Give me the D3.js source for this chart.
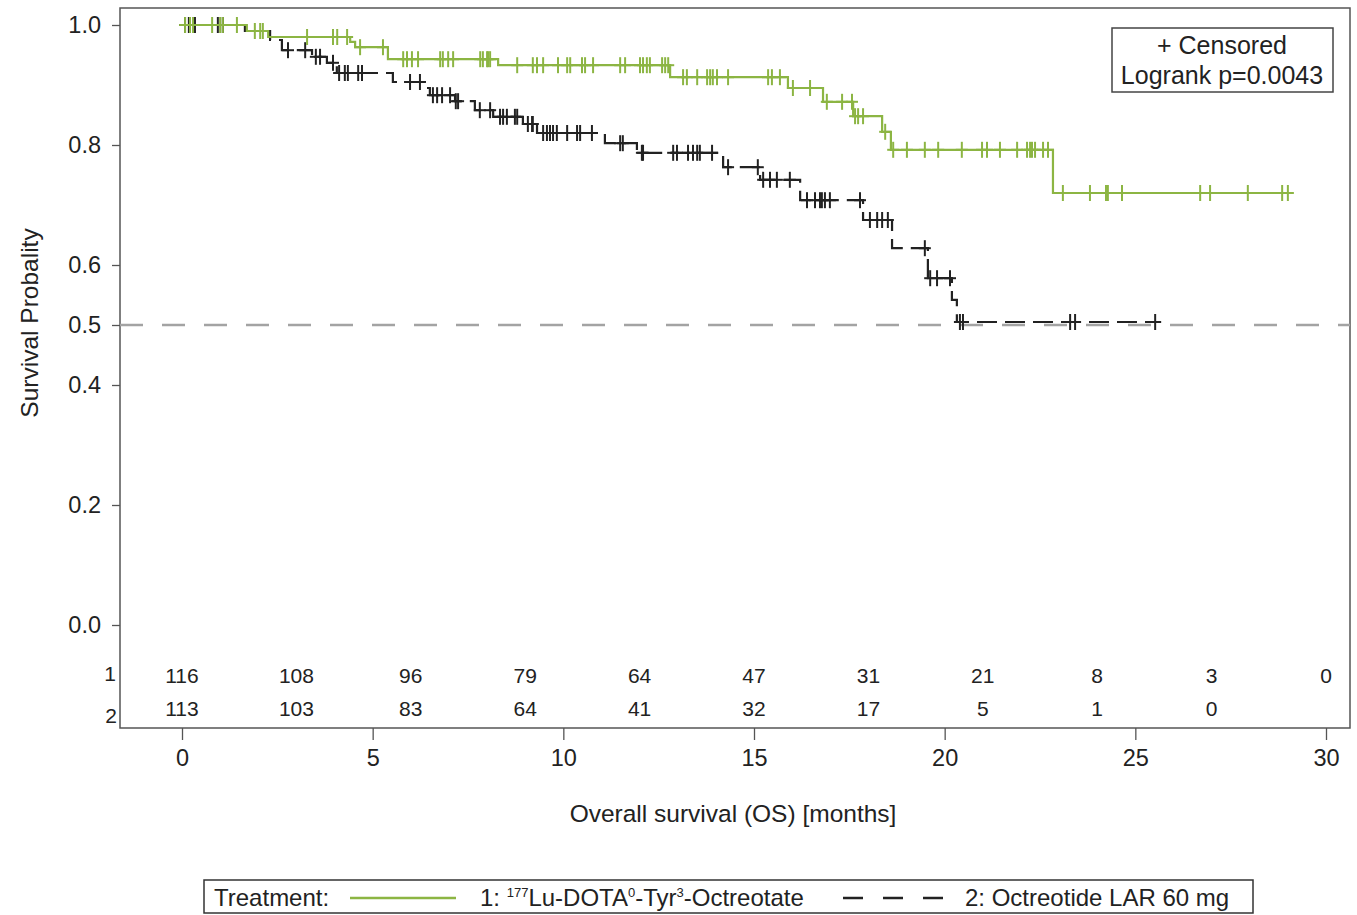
<!DOCTYPE html>
<html>
<head>
<meta charset="utf-8">
<script src="https://d3js.org/d3.v7.min.js"></script>
<style>
  body { margin: 0; background: #fff; }
  text { font-family: "Liberation Sans", Arial, sans-serif; fill: #222; }
</style>
</head>
<body>
<svg width="1357" height="915"></svg>
<script>

// ---- data ----
var xTicks = [0, 5, 10, 15, 20, 25, 30];
var yTicks = [0.0, 0.2, 0.4, 0.5, 0.6, 0.8, 1.0];

var riskTimes = [0, 3, 6, 9, 12, 15, 18, 21, 24, 27, 30];
var riskLu  = [116, 108, 96, 79, 64, 47, 31, 21, 8, 3, 0];
var riskOct = [113, 103, 83, 64, 41, 32, 17, 5, 1, 0];

// [month, survival after the drop]
var luEvents = [
  [1.70, 0.990], [2.26, 0.980], [4.41, 0.972], [4.54, 0.963], [5.40, 0.943],
  [8.29, 0.933], [12.80, 0.913], [15.89, 0.895], [16.81, 0.872], [17.60, 0.848],
  [18.36, 0.822], [18.59, 0.792], [22.84, 0.720]
];
var luCensored = [
  0.08, 0.21, 0.29, 0.79, 1.00, 1.07, 1.44, 1.91, 2.05, 2.12, 3.28, 3.96, 4.07, 4.33,
  4.67, 5.27, 5.80, 5.90, 6.03, 6.19, 6.77, 6.84, 6.98, 7.11, 7.82, 7.89, 8.00, 8.03,
  8.08, 8.79, 9.20, 9.31, 9.47, 9.86, 10.10, 10.18, 10.49, 10.57, 10.78, 11.49, 11.62,
  12.01, 12.09, 12.19, 12.27, 12.59, 12.67, 12.75, 13.14, 13.24, 13.51, 13.77, 13.85,
  13.92, 14.03, 14.32, 15.37, 15.47, 15.68, 16.02, 16.47, 16.91, 17.31, 17.57, 17.65,
  17.73, 17.86, 18.44, 18.65, 19.01, 19.48, 19.83, 20.45, 20.98, 21.11, 21.45, 21.90,
  22.16, 22.24, 22.29, 22.37, 22.58, 22.71, 23.10, 23.81, 24.23, 24.28, 24.65, 26.70,
  26.96, 27.95, 28.85, 29.00
];

var octEvents = [
  [1.65, 0.990], [2.31, 0.975], [2.62, 0.958], [3.41, 0.947], [3.80, 0.937],
  [4.06, 0.920], [5.53, 0.905], [6.37, 0.895], [6.50, 0.883], [7.16, 0.873],
  [7.68, 0.858], [8.16, 0.847], [8.94, 0.835], [9.31, 0.820], [11.09, 0.803],
  [11.93, 0.787], [14.19, 0.763], [15.16, 0.742], [16.21, 0.708], [17.86, 0.675],
  [18.62, 0.628], [19.56, 0.578], [20.19, 0.542], [20.32, 0.505]
];
var octCensored = [
  0.08, 0.18, 0.34, 0.94, 1.07, 2.78, 3.23, 3.51, 3.62, 3.96, 4.12, 4.27, 4.35, 4.62,
  4.72, 5.98, 6.24, 6.58, 6.69, 6.82, 7.03, 7.18, 7.24, 7.81, 8.08, 8.34, 8.42, 8.52,
  8.73, 8.79, 9.07, 9.18, 9.20, 9.47, 9.57, 9.65, 9.73, 9.83, 10.10, 10.36, 10.44,
  10.75, 11.49, 11.56, 12.06, 12.09, 12.88, 12.98, 13.27, 13.40, 13.51, 13.58, 13.90,
  14.32, 15.10, 15.24, 15.42, 15.60, 15.94, 16.39, 16.60, 16.73, 16.78, 16.86, 16.99,
  17.78, 18.04, 18.23, 18.36, 18.51, 19.48, 19.62, 19.80, 20.14, 20.40, 20.48, 23.29,
  23.42, 25.52
];

var green = "#8cb543", dark = "#222";

var svg = d3.select("svg"),
    frame = {left: 120, top: 8, right: 1350, bottom: 728};

var x = d3.scaleLinear().domain([0, 30]).range([182, 1326]);
var y = d3.scaleLinear().domain([0, 1]).range([625, 25]);

// survival of a step curve at time t
function survAt(events, t) {
  var s = 1;
  events.forEach(function(e) { if (e[0] <= t) s = e[1]; });
  return s;
}

function stepPoints(events, censored) {
  var pts = [[0, 1]].concat(events);
  var end = d3.max(censored.concat(events.map(function(e) { return e[0]; })));
  pts.push([end, survAt(events, end)]);
  return pts;
}

var line = d3.line()
    .curve(d3.curveStepAfter)
    .x(function(d) { return x(d[0]); })
    .y(function(d) { return y(d[1]); });

// frame
svg.append("rect")
    .attr("x", frame.left).attr("y", frame.top)
    .attr("width", frame.right - frame.left)
    .attr("height", frame.bottom - frame.top)
    .attr("fill", "none").attr("stroke", "#555").attr("stroke-width", 1.5);

// axes
var yAxis = svg.append("g")
    .attr("transform", "translate(" + frame.left + ",0)")
    .call(d3.axisLeft(y).tickValues(yTicks).tickFormat(d3.format(".1f")).tickSize(8).tickPadding(11));
var xAxis = svg.append("g")
    .attr("transform", "translate(0," + frame.bottom + ")")
    .call(d3.axisBottom(x).tickValues(xTicks).tickSize(12).tickPadding(9));

[yAxis, xAxis].forEach(function(a) {
  a.select(".domain").remove();
  a.selectAll(".tick line").attr("stroke", "#555").attr("stroke-width", 1.3);
  a.selectAll(".tick text").attr("font-size", 23.5).attr("fill", "#222")
      .style("font-family", "'Liberation Sans', Arial, sans-serif");
});

// median reference line
svg.append("line")
    .attr("x1", frame.left).attr("x2", frame.right)
    .attr("y1", y(0.5)).attr("y2", y(0.5))
    .attr("stroke", "#a3a3a3").attr("stroke-width", 2.5)
    .attr("stroke-dasharray", "23,19");

// curves
function drawCurve(events, censored, color, dash) {
  svg.append("path")
      .datum(stepPoints(events, censored))
      .attr("d", line)
      .attr("fill", "none")
      .attr("stroke", color)
      .attr("stroke-width", 2.2)
      .attr("stroke-dasharray", dash);

  var marks = svg.append("g").selectAll("g")
      .data(censored)
    .enter().append("g")
      .attr("transform", function(t) { return "translate(" + x(t) + "," + y(survAt(events, t)) + ")"; })
      .attr("stroke", color).attr("stroke-width", 2);
  marks.append("line").attr("y1", -8).attr("y2", 8);
  marks.append("line").attr("x1", -6).attr("x2", 6);
}

drawCurve(octEvents, octCensored, dark, "20,8");
drawCurve(luEvents, luCensored, green, null);

// numbers at risk
var risk = svg.append("g").attr("font-size", 21).attr("text-anchor", "middle");
risk.selectAll(".r1")
    .data(riskLu)
  .enter().append("text")
    .attr("x", function(d, i) { return x(riskTimes[i]); })
    .attr("y", 683)
    .text(function(d) { return d; });
risk.selectAll(".r2")
    .data(riskOct)
  .enter().append("text")
    .attr("x", function(d, i) { return x(riskTimes[i]); })
    .attr("y", 716)
    .text(function(d) { return d; });

svg.append("text").attr("x", 116).attr("y", 681).attr("text-anchor", "end")
    .attr("font-size", 21).text("1");
svg.append("text").attr("x", 117).attr("y", 723).attr("text-anchor", "end")
    .attr("font-size", 21).text("2");

// axis titles
svg.append("text")
    .attr("transform", "translate(38,323) rotate(-90)")
    .attr("text-anchor", "middle").attr("font-size", 24.5)
    .text("Survival Probality");
svg.append("text")
    .attr("x", 733).attr("y", 822)
    .attr("text-anchor", "middle").attr("font-size", 24.5)
    .text("Overall survival (OS) [months]");

// censored / logrank box
svg.append("rect")
    .attr("x", 1112).attr("y", 28).attr("width", 221).attr("height", 64)
    .attr("fill", "#fff").attr("stroke", "#444").attr("stroke-width", 1.5);
svg.append("text").attr("x", 1222).attr("y", 54).attr("text-anchor", "middle")
    .attr("font-size", 25).text("+ Censored");
svg.append("text").attr("x", 1222).attr("y", 84).attr("text-anchor", "middle")
    .attr("font-size", 25).text("Logrank p=0.0043");

// treatment legend
var leg = svg.append("g");
leg.append("rect")
    .attr("x", 204).attr("y", 880).attr("width", 1049).attr("height", 33)
    .attr("fill", "#fff").attr("stroke", "#333").attr("stroke-width", 1.5);
leg.append("text").attr("x", 214).attr("y", 906).attr("font-size", 24).text("Treatment:");
leg.append("line").attr("x1", 350).attr("x2", 456).attr("y1", 898).attr("y2", 898)
    .attr("stroke", green).attr("stroke-width", 2.5);
var t1 = leg.append("text").attr("x", 480).attr("y", 906).attr("font-size", 24);
t1.append("tspan").text("1: ");
t1.append("tspan").attr("font-size", 13).attr("dy", -9).text("177");
t1.append("tspan").attr("dy", 9).text("Lu-DOTA");
t1.append("tspan").attr("font-size", 13).attr("dy", -9).text("0");
t1.append("tspan").attr("dy", 9).text("-Tyr");
t1.append("tspan").attr("font-size", 13).attr("dy", -9).text("3");
t1.append("tspan").attr("dy", 9).text("-Octreotate");
leg.append("line").attr("x1", 843).attr("x2", 943).attr("y1", 898).attr("y2", 898)
    .attr("stroke", dark).attr("stroke-width", 2.5).attr("stroke-dasharray", "20,20");
leg.append("text").attr("x", 965).attr("y", 906).attr("font-size", 24)
    .text("2: Octreotide LAR 60 mg");

</script>
</body>
</html>
